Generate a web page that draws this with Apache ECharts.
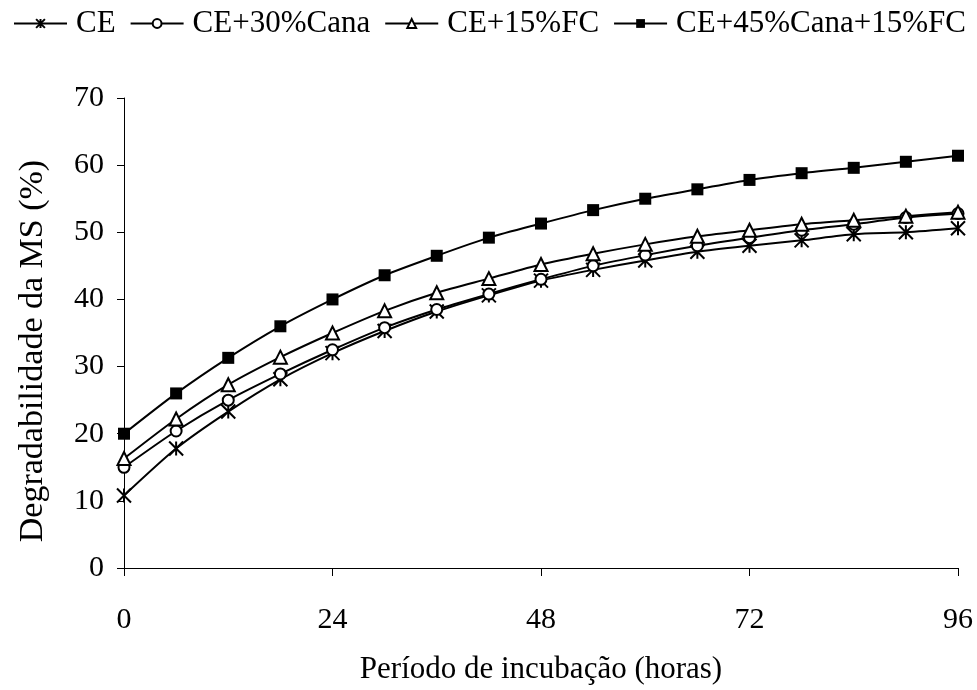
<!DOCTYPE html>
<html>
<head>
<meta charset="utf-8">
<script src="https://cdn.jsdelivr.net/npm/echarts@6/dist/echarts.min.js"></script>
<style>html,body{margin:0;padding:0;background:#fff}#c{width:977px;height:690px}</style>
</head>
<body>
<div id="c"></div>
<script>
const hours = [0,6,12,18,24,30,36,42,48,54,60,66,72,78,84,90,96];
const seriesNames = ['CE','CE+30%Cana','CE+15%FC','CE+45%Cana+15%FC'];
const ce = [10.8,17.8,23.3,28.1,32.0,35.3,38.2,40.6,42.8,44.4,45.8,47.1,48.0,48.8,49.7,50.0,50.6];
const ceCana30 = [15.0,20.4,25.0,28.9,32.5,35.8,38.5,40.8,43.0,45.0,46.6,48.0,49.2,50.3,51.2,52.2,52.8];
const ceFc15 = [16.3,22.2,27.3,31.4,35.0,38.3,41.0,43.1,45.2,46.8,48.2,49.4,50.3,51.2,51.8,52.4,53.0];
const ceCana45Fc15 = [20.0,26.0,31.3,36.0,40.0,43.6,46.5,49.2,51.3,53.3,55.0,56.4,57.8,58.8,59.6,60.5,61.4];
const xTicks = [0,24,48,72,96];
const yTicks = [0,10,20,30,40,50,60,70];

const FONT = 'Liberation Serif';
const starPath = 'path://M0 0L10 10M10 0L0 10M5 0L5 10';
const values = [ce, ceCana30, ceFc15, ceCana45Fc15];
const symbols = [starPath, 'emptyCircle', 'emptyTriangle', 'rect'];
const sizes = [14, 11, 13, 12];

const chart = echarts.init(document.getElementById('c'), null, {renderer:'canvas'});
chart.setOption({
  animation: false,
  backgroundColor: '#fff',
  textStyle: {fontFamily: FONT, color: '#000'},
  legend: {
    top: 3, left: 8,
    itemWidth: 53, itemHeight: 11, itemGap: 14,
    textStyle: {fontFamily: FONT, fontSize: 31, color: '#000', padding: [0,0,0,4]},
    data: seriesNames
  },
  grid: {left: 124, right: 19, top: 98, bottom: 121, containLabel: false},
  xAxis: {
    type: 'value', min: 0, max: 96, interval: 24,
    name: 'Período de incubação (horas)', nameLocation: 'middle', nameGap: 86,
    nameTextStyle: {fontFamily: FONT, fontSize: 31, color: '#000'},
    axisLine: {show: true, onZero: false, lineStyle: {color: '#000', width: 1}},
    axisTick: {show: true, inside: false, length: 8, lineStyle: {color: '#000'}},
    axisLabel: {fontFamily: FONT, fontSize: 30, color: '#000', margin: 37,
      formatter: v => xTicks.includes(v) ? String(v) : ''},
    splitLine: {show: false}
  },
  yAxis: {
    type: 'value', min: 0, max: 70, interval: 10,
    name: 'Degradabilidade da MS (%)', nameLocation: 'middle', nameGap: 74, nameRotate: 90,
    nameTextStyle: {fontFamily: FONT, fontSize: 34, color: '#000', padding: [0,36,0,0]},
    axisLine: {show: true, lineStyle: {color: '#000', width: 1}},
    axisTick: {show: true, inside: false, length: 7, lineStyle: {color: '#000'}},
    axisLabel: {fontFamily: FONT, fontSize: 30, color: '#000', margin: 20,
      formatter: v => yTicks.includes(v) ? String(v) : ''},
    splitLine: {show: false}
  },
  series: seriesNames.map((n, i) => ({
    name: n, type: 'line', smooth: 0.25,
    data: hours.map((h, j) => [h, values[i][j]]),
    symbol: symbols[i], symbolSize: sizes[i], showAllSymbol: true,
    lineStyle: {color: '#000', width: 2},
    itemStyle: {color: '#000', borderColor: '#000', borderWidth: i === 0 ? 2 : (i === 3 ? 0 : 1.5)},
    emphasis: {disabled: true}
  }))
});
</script>
</body>
</html>
